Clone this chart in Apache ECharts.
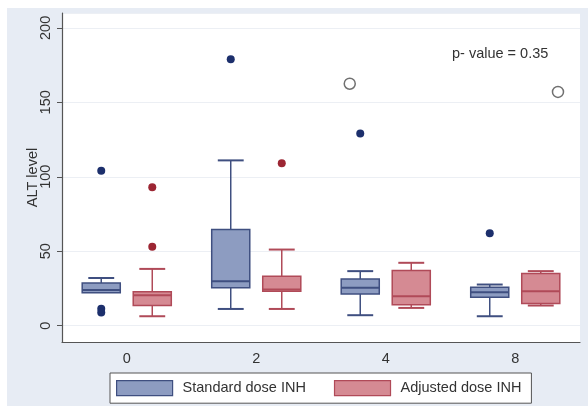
<!DOCTYPE html>
<html>
<head>
<meta charset="utf-8">
<script src="https://cdn.jsdelivr.net/npm/echarts@6/dist/echarts.min.js"></script>
<style>
html,body{margin:0;padding:0;background:#fff;}
#wrap{position:relative;width:588px;height:406px;background:#fff;overflow:hidden;}
#bg{position:absolute;left:7px;top:8px;right:0;bottom:0;background:#e7ecf4;}
#chart{position:absolute;left:0;top:0;width:588px;height:406px;}
</style>
</head>
<body>
<div id="wrap"><div id="bg"></div><div id="chart"></div></div>
<script>
// Time points (weeks)
const categories = ['0', '2', '4', '8'];
// [categoryIndex, lowWhisker, Q1, median, Q3, highWhisker]
const standardBox = [
  [0, 22, 22, 24, 28.7, 32],
  [1, 11.2, 25.4, 29.8, 64.6, 111],
  [2, 7, 21.3, 25.4, 31.4, 36.6],
  [3, 6.3, 19, 22.4, 25.8, 27.6]
];
const adjustedBox = [
  [0, 6.3, 13.5, 20.4, 22.7, 38.1],
  [1, 11.2, 23.1, 24.2, 33.2, 51.1],
  [2, 11.9, 14.1, 19.7, 37, 42.2],
  [3, 13.5, 14.8, 23.1, 35, 36.6]
];
// [categoryIndex, value]
const standardOutliers = [[0, 104], [0, 11.3], [0, 8.9], [1, 179], [2, 129], [3, 62]];
const adjustedOutliers = [[0, 93], [0, 53], [1, 109]];
const hollowPoints = [[2, 162.5], [3, 157]];
const yTicks = [0, 50, 100, 150, 200];
const pValueText = 'p- value = 0.35';

// style / layout constants
const STD_FILL = '#8d9cc1', STD_STROKE = '#3f4f80', STD_DOT = '#1c2f6c';
const ADJ_FILL = '#d58a93', ADJ_STROKE = '#b04a58', ADJ_DOT = '#9c2633';
const OFFSET = 0.197;      // box offset as fraction of band width
const HALF_W = 0.147;      // half box width as fraction of band
const CAP_HALF = 0.10;     // half cap width
const HOLLOW_OFFSETS = [-0.278, 0.33];

function boxRenderer(offsetSign, fill, stroke) {
  return function (params, api) {
    const cat = api.value(0);
    const band = api.size([1, 0])[0];
    const cx = api.coord([cat, 0])[0] + offsetSign * OFFSET * band;
    const yLow = api.coord([cat, api.value(1)])[1];
    const yQ1 = api.coord([cat, api.value(2)])[1];
    const yMed = api.coord([cat, api.value(3)])[1];
    const yQ3 = api.coord([cat, api.value(4)])[1];
    const yHigh = api.coord([cat, api.value(5)])[1];
    const hw = HALF_W * band, cw = CAP_HALF * band;
    const ls = { stroke: stroke, lineWidth: 1.5 };
    const children = [];
    if (yLow - yQ1 > 0.5) {
      children.push({ type: 'line', shape: { x1: cx, y1: yLow, x2: cx, y2: yQ1 }, style: ls });
      children.push({ type: 'line', shape: { x1: cx - cw, y1: yLow, x2: cx + cw, y2: yLow }, style: { stroke: stroke, lineWidth: 2 } });
    }
    if (yQ3 - yHigh > 0.5) {
      children.push({ type: 'line', shape: { x1: cx, y1: yQ3, x2: cx, y2: yHigh }, style: ls });
      children.push({ type: 'line', shape: { x1: cx - cw, y1: yHigh, x2: cx + cw, y2: yHigh }, style: { stroke: stroke, lineWidth: 2 } });
    }
    children.push({ type: 'rect', shape: { x: cx - hw, y: yQ3, width: 2 * hw, height: yQ1 - yQ3 }, style: { fill: fill, stroke: stroke, lineWidth: 1.5 } });
    children.push({ type: 'line', shape: { x1: cx - hw, y1: yMed, x2: cx + hw, y2: yMed }, style: { stroke: stroke, lineWidth: 2 } });
    return { type: 'group', children: children };
  };
}

function dotRenderer(offsetSign, color) {
  return function (params, api) {
    const cat = api.value(0);
    const band = api.size([1, 0])[0];
    const p = api.coord([cat, api.value(1)]);
    return { type: 'circle', shape: { cx: p[0] + offsetSign * OFFSET * band, cy: p[1], r: 4 }, style: { fill: color } };
  };
}

function hollowRenderer(params, api) {
  const cat = api.value(0);
  const band = api.size([1, 0])[0];
  const p = api.coord([cat, api.value(1)]);
  return { type: 'circle', shape: { cx: p[0] + HOLLOW_OFFSETS[params.dataIndex] * band, cy: p[1], r: 5.5 }, style: { fill: '#fff', stroke: '#707070', lineWidth: 1.5 } };
}

const chart = echarts.init(document.getElementById('chart'), null, { renderer: 'canvas' });
const font = 'Liberation Sans, Arial, sans-serif';
chart.setOption({
  animation: false,
  backgroundColor: 'transparent',
  textStyle: { fontFamily: font },
  grid: { left: 62, top: 13, right: 8, bottom: 64, show: true, backgroundColor: '#fff', borderWidth: 0 },
  xAxis: {
    type: 'category', data: categories,
    axisLine: { onZero: false, lineStyle: { color: '#555', width: 1.2 } },
    axisTick: { show: false },
    axisLabel: { fontSize: 14.5, color: '#333', margin: 9, fontFamily: font },
    splitLine: { show: false }
  },
  yAxis: {
    type: 'value', min: -11, max: 210, splitNumber: 5,
    name: 'ALT level', nameLocation: 'middle', nameGap: 22, nameMoveOverlap: false,
    nameTextStyle: { fontSize: 14.5, color: '#333', fontFamily: font },
    axisLine: { show: true, lineStyle: { color: '#555', width: 1.2 } },
    axisTick: { show: true, length: 5, lineStyle: { color: '#555' } },
    axisLabel: {
      rotate: 90, fontSize: 14.5, color: '#333', margin: 9, fontFamily: font,
      showMinLabel: false, showMaxLabel: false,
      formatter: function (v) { return yTicks.indexOf(v) >= 0 ? String(v) : ''; }
    },
    splitLine: { lineStyle: { color: '#eceff4', width: 1 } }
  },
  legend: {
    left: 110, top: 373,
    padding: [7, 10, 7, 6],
    itemWidth: 56, itemHeight: 15, itemGap: 28,
    backgroundColor: '#fff', borderColor: '#555', borderWidth: 1,
    icon: 'rect',
    textStyle: { fontSize: 14.5, color: '#333', fontFamily: font, padding: [0, 0, 0, 5] },
    data: [
      { name: 'Standard dose INH', itemStyle: { color: STD_FILL, borderColor: STD_STROKE, borderWidth: 1.2 } },
      { name: 'Adjusted dose INH', itemStyle: { color: ADJ_FILL, borderColor: ADJ_STROKE, borderWidth: 1.2 } }
    ]
  },
  graphic: [{
    type: 'text', left: 452, top: 46, silent: true,
    style: { text: pValueText, fontSize: 14.5, fill: '#333', fontFamily: font }
  }],
  series: [
    { name: 'Standard dose INH', type: 'custom', renderItem: boxRenderer(-1, STD_FILL, STD_STROKE),
      itemStyle: { color: STD_FILL, borderColor: STD_STROKE }, encode: { x: 0, y: [1, 2, 3, 4, 5] }, data: standardBox },
    { name: 'Adjusted dose INH', type: 'custom', renderItem: boxRenderer(1, ADJ_FILL, ADJ_STROKE),
      itemStyle: { color: ADJ_FILL, borderColor: ADJ_STROKE }, encode: { x: 0, y: [1, 2, 3, 4, 5] }, data: adjustedBox },
    { name: 'stdOut', type: 'custom', renderItem: dotRenderer(-1, STD_DOT), encode: { x: 0, y: 1 }, data: standardOutliers },
    { name: 'adjOut', type: 'custom', renderItem: dotRenderer(1, ADJ_DOT), encode: { x: 0, y: 1 }, data: adjustedOutliers },
    { name: 'hollow', type: 'custom', renderItem: hollowRenderer, encode: { x: 0, y: 1 }, data: hollowPoints }
  ]
});
</script>
</body>
</html>
